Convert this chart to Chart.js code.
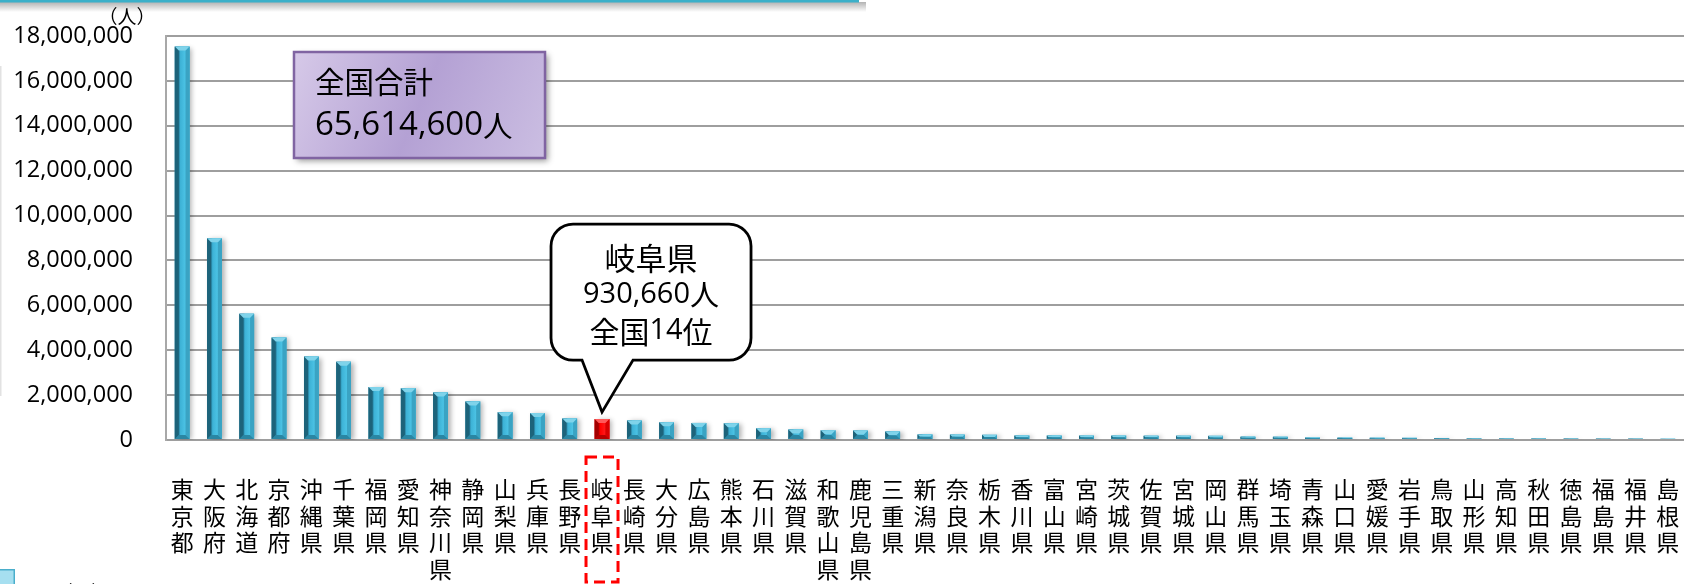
<!DOCTYPE html>
<html lang="ja">
<head>
<meta charset="utf-8">
<title>都道府県別 人数</title>
<script src="https://cdn.jsdelivr.net/npm/chart.js@4"></script>
<style>
  html, body { margin: 0; padding: 0; background: #ffffff; }
  #wrap { position: relative; width: 1691px; height: 584px; }
  canvas { display: block; }
</style>
</head>
<body>
<div id="wrap"><canvas id="chart" width="1691" height="584"></canvas></div>
<script>
// 都道府県（多い順）
const categories = [
  '東京都','大阪府','北海道','京都府','沖縄県','千葉県','福岡県','愛知県','神奈川県','静岡県',
  '山梨県','兵庫県','長野県','岐阜県','長崎県','大分県','広島県','熊本県','石川県','滋賀県',
  '和歌山県','鹿児島県','三重県','新潟県','奈良県','栃木県','香川県','富山県','宮崎県','茨城県',
  '佐賀県','宮城県','岡山県','群馬県','埼玉県','青森県','山口県','愛媛県','岩手県','鳥取県',
  '山形県','高知県','秋田県','徳島県','福島県','福井県','島根県'
];

// 人数（人）
const values = [
  17530000, 8990000, 5630000, 4570000, 3720000, 3490000, 2360000, 2310000, 2120000, 1720000,
  1240000, 1200000, 960000, 930660, 870000, 790000, 760000, 750000, 520000, 470000,
  430000, 420000, 380000, 250000, 240000, 230000, 200000, 200000, 195000, 195000,
  190000, 190000, 185000, 150000, 145000, 110000, 105000, 100000, 95000, 90000,
  65000, 63000, 62000, 60000, 58000, 57000, 55000
];

// 縦軸目盛り
const yTicks = [0, 2000000, 4000000, 6000000, 8000000, 10000000, 12000000, 14000000, 16000000, 18000000];

const highlightName = '岐阜県';
const highlightRank = '全国14位';
const totalTitle = '全国合計';
const totalValue = '65,614,600人';
const unitLabel = '（人）';

const highlightIndex = categories.indexOf(highlightName);
const fmt = n => n.toLocaleString('en-US');

const LATIN = "'Open Sans', 'Noto Sans CJK JP', sans-serif";
const CJK = "'Noto Sans CJK JP', sans-serif";

// draws a line mixing Latin digits and CJK characters, each in its own face and size
function mixedText(ctx, str, x, y, align, latinSize, cjkSize) {
  const runs = [];
  for (const ch of Array.from(str)) {
    const latin = ch.charCodeAt(0) < 0x3000;
    const last = runs[runs.length - 1];
    if (last && last.latin === latin) last.s += ch;
    else runs.push({ latin, s: ch });
  }
  let total = 0;
  runs.forEach(r => {
    ctx.font = r.latin ? `${latinSize}px 'Open Sans', sans-serif` : `${cjkSize}px ${CJK}`;
    r.w = ctx.measureText(r.s).width;
    total += r.w;
  });
  let cx = align === 'center' ? x - total / 2 : x;
  ctx.textAlign = 'left';
  ctx.textBaseline = 'middle';
  runs.forEach(r => {
    ctx.font = r.latin ? `${latinSize}px 'Open Sans', sans-serif` : `${cjkSize}px ${CJK}`;
    ctx.fillText(r.s, cx, y);
    cx += r.w;
  });
}

// page chrome: header strip edge, side rule, small corner tile
const chromePlugin = {
  id: 'chrome',
  beforeDraw(chart) {
    const ctx = chart.ctx;
    ctx.save();
    ctx.fillStyle = '#ffffff';
    ctx.fillRect(0, 0, chart.width, chart.height);
    const sh = ctx.createLinearGradient(0, 2, 0, 12);
    sh.addColorStop(0, 'rgba(0,0,0,0.30)');
    sh.addColorStop(1, 'rgba(0,0,0,0)');
    ctx.fillStyle = sh;
    ctx.fillRect(0, 2, 866, 10);
    ctx.fillStyle = '#3bb0c9';
    ctx.fillRect(0, 0, 859, 2.5);
    ctx.fillStyle = '#e2e2e2';
    ctx.fillRect(0, 66, 1.5, 330);
    ctx.fillStyle = '#a6dff0';
    ctx.fillRect(0, 569, 15, 15);
    ctx.strokeStyle = '#4aaecb';
    ctx.lineWidth = 1.5;
    ctx.strokeRect(-1, 569.75, 15.25, 16);
    ctx.restore();
  }
};

// 3D-looking bevel on each bar, using the bar elements laid out by the chart
const bevelPlugin = {
  id: 'bevel',
  beforeDatasetsDraw(chart) {
    const ctx = chart.ctx;
    ctx.save();
    ctx.shadowColor = 'rgba(0,0,0,0.30)';
    ctx.shadowBlur = 5;
    ctx.shadowOffsetX = 3;
    ctx.shadowOffsetY = 1;
  },
  afterDatasetsDraw(chart) {
    const ctx = chart.ctx;
    ctx.restore();
    const meta = chart.getDatasetMeta(0);
    meta.data.forEach((el, i) => {
      const p = el.getProps(['x', 'y', 'base', 'width'], true);
      const L = p.x - p.width / 2, R = p.x + p.width / 2;
      const T = Math.min(p.y, p.base), B = Math.max(p.y, p.base);
      const h = B - T;
      if (h <= 0) return;
      const red = i === highlightIndex;
      const pal = red
        ? { l: '#a30000', g: ['#b40000', '#c80000', '#ff0000', '#ff1a1a', '#e60000'], t: '#ff5a5a', r: '#d80000', b: '#b80000' }
        : { l: '#1d637a', g: ['#1f6a83', '#27809f', '#3db2d6', '#4cc3e5', '#3aa9ca'], t: '#7fd3ea', r: '#3aa3c3', b: '#2a86a3' };
      const d = Math.min(4, h / 2, p.width / 2);
      ctx.save();
      const g = ctx.createLinearGradient(L, 0, R, 0);
      g.addColorStop(0, pal.g[0]);
      g.addColorStop(0.28, pal.g[1]);
      g.addColorStop(0.38, pal.g[2]);
      g.addColorStop(0.72, pal.g[3]);
      g.addColorStop(1, pal.g[4]);
      ctx.fillStyle = g;
      ctx.fillRect(L, T, R - L, h);
      const poly = (pts, c) => {
        ctx.beginPath();
        ctx.moveTo(pts[0][0], pts[0][1]);
        for (let k = 1; k < pts.length; k++) ctx.lineTo(pts[k][0], pts[k][1]);
        ctx.closePath();
        ctx.fillStyle = c;
        ctx.fill();
      };
      poly([[L, T], [L + d, T + d], [L + d, B - d], [L, B]], pal.l);
      poly([[R, T], [R, B], [R - d, B - d], [R - d, T + d]], pal.r);
      poly([[L, T], [R, T], [R - d, T + d], [L + d, T + d]], pal.t);
      poly([[L, B], [R, B], [R - d, B - d], [L + d, B - d]], pal.b);
      ctx.restore();
    });
  }
};

// annotations: unit label, total box, callout, dashed frame round the highlighted label
const notePlugin = {
  id: 'notes',
  afterDraw(chart) {
    const ctx = chart.ctx;
    const el = chart.getDatasetMeta(0).data[highlightIndex];
    const gx = el.x, gTop = el.y;

    ctx.save();
    ctx.fillStyle = '#000';
    ctx.font = `19px ${CJK}`;
    ctx.textAlign = 'center';
    ctx.textBaseline = 'middle';
    ctx.fillText(unitLabel, 127, 17);
    ctx.fillText(unitLabel, 82, 593);

    // total box
    const bx = 294, by = 52, bw = 251, bh = 106;
    ctx.save();
    ctx.shadowColor = 'rgba(0,0,0,0.40)';
    ctx.shadowBlur = 6;
    ctx.shadowOffsetX = 3;
    ctx.shadowOffsetY = 3;
    const pg = ctx.createLinearGradient(bx, by, bx + bw, by + bh);
    pg.addColorStop(0, '#d6c9e8');
    pg.addColorStop(0.5, '#b4a1d4');
    pg.addColorStop(1, '#cbbee2');
    ctx.fillStyle = pg;
    ctx.fillRect(bx, by, bw, bh);
    ctx.restore();
    ctx.strokeStyle = '#8064a2';
    ctx.lineWidth = 2.5;
    ctx.strokeRect(bx, by, bw, bh);
    ctx.fillStyle = '#000';
    mixedText(ctx, totalTitle, 315, 82, 'left', 33, 29.5);
    mixedText(ctx, totalValue, 315, 126, 'left', 33, 29.5);

    // callout pointing at the highlighted bar
    const tipX = gx, tipY = gTop - 7;
    const L = gx - 51, R = gx + 149, T = tipY - 188, B = tipY - 52, r = 22;
    const pL = gx - 20, pR = gx + 31;
    ctx.beginPath();
    ctx.moveTo(L + r, T);
    ctx.lineTo(R - r, T);
    ctx.arcTo(R, T, R, T + r, r);
    ctx.lineTo(R, B - r);
    ctx.arcTo(R, B, R - r, B, r);
    ctx.lineTo(pR, B);
    ctx.lineTo(tipX, tipY);
    ctx.lineTo(pL, B);
    ctx.lineTo(L + r, B);
    ctx.arcTo(L, B, L, B - r, r);
    ctx.lineTo(L, T + r);
    ctx.arcTo(L, T, L + r, T, r);
    ctx.closePath();
    ctx.fillStyle = '#ffffff';
    ctx.fill();
    ctx.lineWidth = 2.8;
    ctx.lineJoin = 'miter';
    ctx.strokeStyle = '#000';
    ctx.stroke();
    const cx = (L + R) / 2;
    ctx.fillStyle = '#000';
    mixedText(ctx, highlightName, cx, T + 34, 'center', 29, 31);
    mixedText(ctx, fmt(values[highlightIndex]) + '人', cx, T + 71, 'center', 29, 29);
    mixedText(ctx, highlightRank, cx, T + 107, 'center', 29, 30);

    // dashed frame round the highlighted category label
    ctx.setLineDash([11, 6]);
    ctx.lineWidth = 3;
    ctx.strokeStyle = '#ff0000';
    ctx.strokeRect(gx - 16, 457, 32, 125);
    ctx.restore();
  }
};

new Chart(document.getElementById('chart'), {
  type: 'bar',
  data: {
    labels: categories.map(s => Array.from(s)),
    datasets: [{
      data: values,
      backgroundColor: values.map((v, i) => i === highlightIndex ? '#ff0000' : '#3cb0d4'),
      borderWidth: 0,
      categoryPercentage: 1,
      barPercentage: 0.455
    }]
  },
  options: {
    responsive: false,
    animation: false,
    events: [],
    layout: { padding: { left: 0, top: 36, right: 7, bottom: 0 } },
    plugins: { legend: { display: false }, tooltip: { enabled: false } },
    scales: {
      x: {
        grid: { display: false, drawTicks: false },
        border: { display: false },
        ticks: {
          autoSkip: false,
          maxRotation: 0,
          minRotation: 0,
          padding: 36,
          color: '#000',
          font: { family: CJK, size: 23, lineHeight: 1.16 }
        },
        afterFit(scale) {
          scale.height = 144;
          scale.paddingLeft = 0;
          scale.paddingRight = 0;
        }
      },
      y: {
        min: 0,
        max: 18000000,
        afterBuildTicks(scale) { scale.ticks = yTicks.map(v => ({ value: v })); },
        grid: { color: '#9e9e9e', lineWidth: 2, drawTicks: false },
        border: { display: true, color: '#a8a8a8', width: 2 },
        ticks: {
          padding: 33,
          color: '#000',
          font: { family: LATIN, size: 23.5 },
          callback: v => fmt(v)
        },
        afterFit(scale) {
          scale.width = 166;
          scale.paddingTop = 0;
          scale.paddingBottom = 0;
        }
      }
    }
  },
  plugins: [chromePlugin, bevelPlugin, notePlugin]
});
</script>
</body>
</html>
